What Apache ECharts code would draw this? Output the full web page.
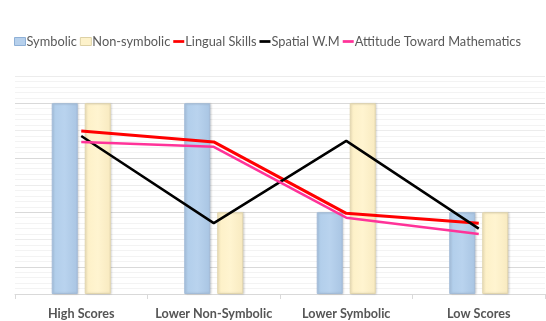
<!DOCTYPE html>
<html><head><meta charset="utf-8">
<script src="https://cdn.jsdelivr.net/npm/echarts@6/dist/echarts.min.js"></script>
<style>html,body{margin:0;padding:0;background:#fff}#c{width:546px;height:321px}</style>
</head><body><div id="c"></div>
<script>
const categories = ['High Scores', 'Lower Non-Symbolic', 'Lower Symbolic', 'Low Scores'];
const symbolic = [3.5, 3.5, 1.5, 1.5];
const nonSymbolic = [3.5, 1.5, 3.5, 1.5];
const lingualSkills = [2.99, 2.79, 1.48, 1.30];
const spatialWM = [2.90, 1.30, 2.81, 1.20];
const attitudeMath = [2.79, 2.70, 1.40, 1.10];

const chart = echarts.init(document.getElementById('c'), null, {renderer: 'canvas'});
const font = 'Lato, "Open Sans", sans-serif';
const lineIcon = 'path://M0,0h12v3h-12z';
chart.setOption({
  animation: false,
  textStyle: {fontFamily: font},
  legend: {
    top: 35, left: 14, padding: 0,
    itemGap: 3, itemWidth: 11, itemHeight: 8,
    textStyle: {color: '#595959', fontSize: 12.8, fontFamily: font, padding: [0, 0, 0, -4]},
    data: [
      {name: 'Symbolic', icon: 'rect', itemStyle: {color: '#b6d0ec', borderColor: '#8fb0d6', borderWidth: 1}},
      {name: 'Non-symbolic', icon: 'rect', itemStyle: {color: '#fdf2cb', borderColor: '#ddd1a5', borderWidth: 1}},
      {name: 'Lingual Skills', icon: lineIcon},
      {name: 'Spatial W.M', icon: lineIcon},
      {name: 'Attitude Toward Mathematics', icon: lineIcon}
    ]
  },
  grid: {left: 15, right: 1, top: 76, bottom: 27},
  xAxis: {
    type: 'category', data: categories,
    axisLine: {lineStyle: {color: '#d9d9d9'}},
    axisTick: {show: true, length: 5, interval: 0, lineStyle: {color: '#d9d9d9'}},
    axisLabel: {color: '#555555', fontWeight: 'bold', fontSize: 12.6, margin: 13, interval: 0, fontFamily: font}
  },
  yAxis: {
    type: 'value', min: 0, max: 4, interval: 0.5,
    axisLabel: {show: false}, axisLine: {show: false}, axisTick: {show: false},
    splitLine: {show: true, lineStyle: {color: ['#ececec', '#d9d9d9'], width: 1}},
    minorTick: {show: false, splitNumber: 5},
    minorSplitLine: {show: true, lineStyle: {color: '#f3f3f3', width: 1}}
  },
  series: [
    {name: 'Symbolic', type: 'bar', data: symbolic, barWidth: 26, barGap: '27%',
     itemStyle: {color: new echarts.graphic.LinearGradient(0,0,1,0,[{offset:0,color:'#b0cdea'},{offset:0.5,color:'#b9d3ee'},{offset:1,color:'#a9c5e3'}]),
       borderColor: '#a3bcd8', borderWidth: 1, shadowColor: 'rgba(0,0,0,0.15)', shadowBlur: 2, shadowOffsetX: 1}},
    {name: 'Non-symbolic', type: 'bar', data: nonSymbolic, barWidth: 26,
     itemStyle: {color: new echarts.graphic.LinearGradient(0,0,1,0,[{offset:0,color:'#fdf0c6'},{offset:0.5,color:'#fff4d0'},{offset:1,color:'#f8eac0'}]),
       borderColor: '#e2d6ae', borderWidth: 1, shadowColor: 'rgba(0,0,0,0.15)', shadowBlur: 2, shadowOffsetX: 1}},
    {name: 'Lingual Skills', type: 'line', data: lingualSkills, showSymbol: false, symbol: 'none',
     lineStyle: {color: '#ff0000', width: 3}, itemStyle: {color: '#ff0000'}},
    {name: 'Spatial W.M', type: 'line', data: spatialWM, showSymbol: false, symbol: 'none',
     lineStyle: {color: '#000000', width: 2.5}, itemStyle: {color: '#000000'}},
    {name: 'Attitude Toward Mathematics', type: 'line', data: attitudeMath, showSymbol: false, symbol: 'none',
     lineStyle: {color: '#ff3399', width: 2.5}, itemStyle: {color: '#ff3399'}}
  ]
});
</script></body></html>
